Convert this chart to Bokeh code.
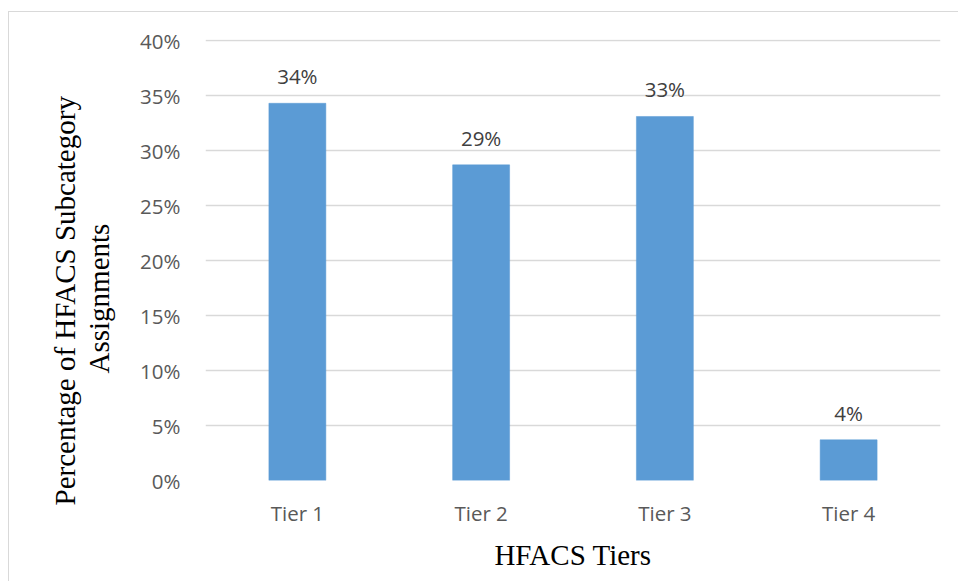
from bokeh.plotting import figure
from bokeh.models import (ColumnDataSource, Range1d, FactorRange, NumeralTickFormatter,
                          FixedTicker, LabelSet, Title, InlineStyleSheet)
from bokeh.core.properties import value
from bokeh.embed import file_html
from bokeh.resources import INLINE

# Share of HFACS subcategory assignments per tier
tiers = ["Tier 1", "Tier 2", "Tier 3", "Tier 4"]
shares = [0.343, 0.287, 0.331, 0.037]
y_ticks = [0.0, 0.05, 0.10, 0.15, 0.20, 0.25, 0.30, 0.35, 0.40]
y_title = ["Percentage of HFACS Subcategory", "Assignments"]
x_title = "HFACS Tiers"

labels = [f"{round(v * 100)}%" for v in shares]
src = ColumnDataSource(data=dict(tier=tiers, share=shares, label=labels))

FRAME_LEFT, FRAME_BOTTOM = 205, 480

p = figure(
    width=958, height=581,
    x_range=FactorRange(*tiers, range_padding=0),
    y_range=Range1d(0, 0.401),
    output_backend="svg", toolbar_location=None,
    min_border_left=FRAME_LEFT, min_border_right=18, min_border_top=39,
    min_border_bottom=581 - FRAME_BOTTOM,
    background_fill_color="white", border_fill_color="white",
)
p.outline_line_color = None

p.vbar(x="tier", top="share", width=0.31, source=src,
       fill_color="#5b9bd5", line_color="#5b9bd5", line_width=0.5)

p.add_layout(LabelSet(x="tier", y="share", text="label", source=src,
                      text_align="center", text_baseline="alphabetic", y_offset=19,
                      text_font=value("Open Sans"), text_font_size=value("20.5px"),
                      text_color="#404040"))

# y axis
p.yaxis.ticker = FixedTicker(ticks=y_ticks)
p.yaxis.formatter = NumeralTickFormatter(format="0%")
p.yaxis.axis_line_color = None
p.yaxis.major_tick_line_color = None
p.yaxis.minor_tick_line_color = None
p.yaxis.major_label_standoff = 19
p.yaxis.major_label_text_font = "Open Sans"
p.yaxis.major_label_text_font_size = "20.5px"
p.yaxis.major_label_text_color = "#595959"

# two-line rotated y title; inner line is added first so it sits nearest the axis.
# offset is measured upward from the bottom of the plot area to the start of the text;
# the outer line's negative standoff pulls it in to a normal line spacing.
for line, standoff, offset in ((y_title[1], 46, 107), (y_title[0], -46, -25)):
    p.add_layout(Title(text=line, align="left", offset=offset, standoff=standoff,
                       text_font="Liberation Serif", text_font_size="29px",
                       text_font_style="normal", text_color="black"), "left")

# x axis
p.xaxis.axis_line_color = None
p.xaxis.major_tick_line_color = None
p.xaxis.minor_tick_line_color = None
p.xaxis.major_label_standoff = 12
p.xaxis.major_label_text_font = "Open Sans"
p.xaxis.major_label_text_font_size = "20.5px"
p.xaxis.major_label_text_color = "#595959"
p.xaxis.axis_label = x_title
p.xaxis.axis_label_text_font = "Liberation Serif"
p.xaxis.axis_label_text_font_size = "29px"
p.xaxis.axis_label_text_font_style = "normal"
p.xaxis.axis_label_text_color = "black"
p.xaxis.axis_label_standoff = 9

p.xgrid.grid_line_color = None
p.ygrid.grid_line_color = "#d9d9d9"
p.ygrid.grid_line_width = 1.5

# light outer chart border (left and top edges)
p.stylesheets = [InlineStyleSheet(css="""
:host::after {
  content: "";
  position: absolute;
  left: 8px; top: 11px; right: 0; bottom: 0;
  border-left: 1.5px solid #d9d9d9;
  border-top: 1.5px solid #d9d9d9;
  pointer-events: none;
}
""")]

open("out.html", "w").write(file_html(p, INLINE))
